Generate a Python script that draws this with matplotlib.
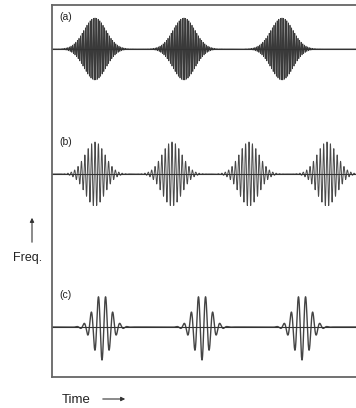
import numpy as np
import matplotlib
matplotlib.use("Agg")
import matplotlib.pyplot as plt

plt.rcParams['font.family'] = ['Liberation Sans', 'DejaVu Sans']

# Wave-packet rows (time in arbitrary units = horizontal position, baseline = row level)
row_labels = ["(a)", "(b)", "(c)"]
row_baselines = [49, 174, 327]
row_amplitudes = [31, 32, 33]
centers_a = [95, 184, 282]
centers_b = [95, 172, 249, 327]
centers_c = [102, 202, 302]
row_centers = [centers_a, centers_b, centers_c]
row_widths = [11, 10, 8.5]        # gaussian envelope sigma
row_periods = [1.6, 3.4, 7.2]     # carrier period
row_phases = [0.0, 0.0, np.pi]
row_colors = ["#3a3a3a", "#4a4a4a", "#444444"]
row_lw = [0.6, 0.7, 1.0]

fig = plt.figure(figsize=(3.56, 4.08), dpi=100)
W, H = 356, 408
x0, x1 = 52, 360
y0, y1 = 5, 377
ax = fig.add_axes([x0 / W, 1 - y1 / H, (x1 - x0) / W, (y1 - y0) / H])
ax.set_xlim(x0, x1)
ax.set_ylim(y1, y0)

t = np.linspace(x0, x1, 8000)
for lab, base, amp, cents, sig, per, ph, col, lw in zip(row_labels, row_baselines, row_amplitudes,
                                                         row_centers, row_widths, row_periods,
                                                         row_phases, row_colors, row_lw):
    y = np.zeros_like(t)
    for c in cents:
        env = np.exp(-0.5 * ((t - c) / sig) ** 2)
        y += env * np.cos(2 * np.pi * (t - c) / per + ph)
    ax.plot(t, base - amp * y, color=col, lw=lw)
    ax.axhline(base, color="#333333", lw=0.8)
    ax.text(x0 + 7, base - 32, lab, fontsize=7.5, ha="left", va="center", color="#222222")

for s in ["left", "top", "bottom"]:
    ax.spines[s].set_color("#666666")
    ax.spines[s].set_linewidth(1.3)
ax.spines["right"].set_visible(False)
ax.set_xticks([])
ax.set_yticks([])

fig.text(13 / W, 1 - 258 / H, "Freq.", fontsize=9, ha="left", va="center", color="#222222")
fig.text(62 / W, 1 - 400 / H, "Time", fontsize=9.5, ha="left", va="center", color="#222222")
fig.add_artist(matplotlib.patches.FancyArrowPatch((32 / W, 1 - 245 / H), (32 / W, 1 - 215 / H),
               transform=fig.transFigure, arrowstyle="-|>", mutation_scale=6,
               color="#333333", lw=0.8))
fig.add_artist(matplotlib.patches.FancyArrowPatch((100 / W, 1 - 399 / H), (128 / W, 1 - 399 / H),
               transform=fig.transFigure, arrowstyle="-|>", mutation_scale=6,
               color="#333333", lw=0.8))

fig.savefig("out.png", dpi=100)
